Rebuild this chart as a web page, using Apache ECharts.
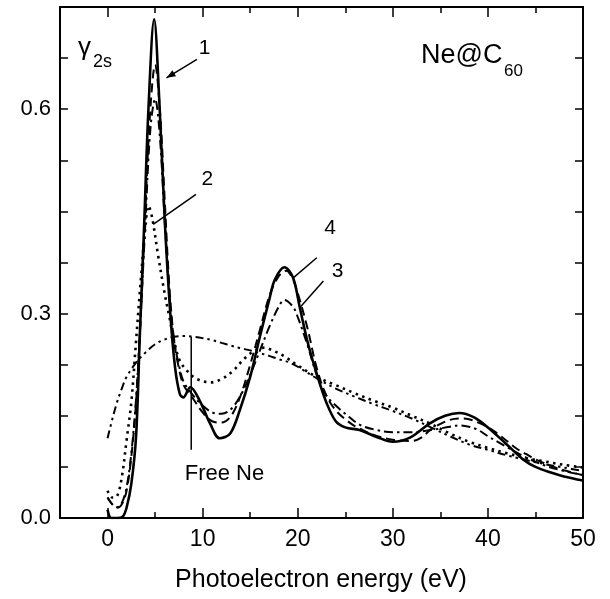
<!DOCTYPE html>
<html>
<head>
<meta charset="utf-8">
<script src="https://cdn.jsdelivr.net/npm/echarts@6/dist/echarts.min.js"></script>
<style>html,body{margin:0;padding:0;background:#fff}#c{width:610px;height:599px}</style>
</head>
<body>
<div id="c"></div>
<script>
// Curve 1: Ne@C60 (solid)
const curve1 = [[0,0.012],[0.4,0.0],[1.0,0.0],[1.6,0.002],[2.0,0.015],[2.5,0.05],[3.0,0.12],[3.4,0.27],[3.85,0.43],[4.3,0.6],[4.9,0.732],[5.45,0.61],[6.04,0.43],[6.6,0.3],[7.1,0.221],[7.6,0.182],[7.96,0.177],[8.7,0.192],[9.7,0.172],[10.8,0.138],[11.8,0.117],[12.9,0.124],[13.9,0.158],[15.0,0.207],[16.0,0.265],[17.0,0.32],[17.6,0.35],[18.6,0.368],[19.5,0.353],[20.2,0.31],[21.1,0.255],[22.1,0.207],[23.0,0.17],[24.0,0.142],[25.0,0.133],[26.5,0.129],[28.3,0.119],[30.0,0.112],[31.8,0.118],[33.9,0.139],[35.5,0.15],[37.0,0.154],[38.5,0.148],[40.0,0.133],[41.9,0.109],[43.7,0.086],[45.0,0.075],[46.8,0.066],[48.0,0.061],[50.0,0.055]];
// Curve 2 (dotted)
const curve2 = [[0,0.04],[0.5,0.03],[1.0,0.032],[1.5,0.06],[2.0,0.114],[2.5,0.17],[3.0,0.26],[3.5,0.35],[4.0,0.43],[4.3,0.458],[4.7,0.44],[5.3,0.387],[6.0,0.33],[6.5,0.295],[7.0,0.26],[7.6,0.231],[8.5,0.214],[9.4,0.204],[10.8,0.199],[12.0,0.204],[13.2,0.216],[14.4,0.234],[15.5,0.246],[16.5,0.25],[17.5,0.245],[18.5,0.238],[20.0,0.224],[22.0,0.207],[24.0,0.195],[26.0,0.183],[28.0,0.172],[30.0,0.162],[32.0,0.15],[34.0,0.138],[36.0,0.124],[38.0,0.112],[40.0,0.103],[42.0,0.095],[44.0,0.088],[46.0,0.083],[48.0,0.078],[50.0,0.074]];
// Curve 3 (dash-dot)
const curve3 = [[0,0.03],[0.5,0.02],[1.0,0.016],[1.5,0.022],[2.0,0.045],[2.5,0.095],[3.0,0.175],[3.5,0.3],[4.0,0.44],[4.5,0.57],[5.0,0.615],[5.5,0.56],[6.0,0.44],[6.5,0.33],[7.0,0.26],[7.5,0.225],[8.0,0.2],[9.0,0.18],[10.0,0.165],[11.0,0.155],[12.0,0.153],[13.0,0.16],[14.0,0.18],[15.0,0.21],[16.0,0.245],[17.0,0.28],[18.0,0.31],[18.6,0.32],[19.5,0.31],[20.0,0.295],[21.0,0.255],[22.0,0.21],[23.0,0.18],[24.0,0.165],[25.0,0.153],[26.5,0.137],[28.0,0.13],[30.0,0.126],[32.0,0.126],[34.0,0.129],[36.0,0.134],[37.0,0.136],[38.0,0.134],[39.0,0.129],[40.0,0.12],[41.0,0.112],[42.0,0.104],[44.0,0.089],[46.0,0.077],[48.0,0.069],[50.0,0.063]];
// Curve 4 (dashed)
const curve4 = [[0,0.03],[0.5,0.02],[1.0,0.015],[1.5,0.02],[2.0,0.04],[2.5,0.09],[3.0,0.17],[3.5,0.3],[4.0,0.46],[4.5,0.6],[5.0,0.665],[5.5,0.6],[6.0,0.47],[6.5,0.34],[7.0,0.26],[7.5,0.22],[8.0,0.195],[9.0,0.175],[10.0,0.155],[11.0,0.142],[12.0,0.14],[13.0,0.15],[14.0,0.18],[15.0,0.225],[16.0,0.275],[17.0,0.325],[18.0,0.355],[18.8,0.363],[19.5,0.35],[20.0,0.33],[21.0,0.28],[22.0,0.22],[23.0,0.18],[24.0,0.158],[25.0,0.145],[26.0,0.135],[28.0,0.122],[30.0,0.115],[32.0,0.113],[33.0,0.118],[34.0,0.13],[35.0,0.138],[36.0,0.144],[37.0,0.146],[38.0,0.145],[39.0,0.14],[40.0,0.133],[41.0,0.124],[42.0,0.113],[43.0,0.102],[44.0,0.094],[45.0,0.086],[46.0,0.08],[48.0,0.07],[50.0,0.063]];
// Free Ne (dash-dot-dot)
const freeNe = [[0,0.117],[0.5,0.145],[1.0,0.17],[1.5,0.19],[2.0,0.207],[3.0,0.228],[4.0,0.243],[5.0,0.255],[6.0,0.262],[7.0,0.266],[8.0,0.267],[9.0,0.266],[10.0,0.264],[11.0,0.261],[12.0,0.257],[13.0,0.253],[14.0,0.249],[15.0,0.246],[16.0,0.242],[17.0,0.238],[18.0,0.233],[19.0,0.229],[20.0,0.222],[22.0,0.205],[24.0,0.19],[26.0,0.178],[28.0,0.167],[30.0,0.157],[32.0,0.146],[34.0,0.133],[36.0,0.12],[38.0,0.108],[40.0,0.1],[42.0,0.092],[44.0,0.085],[46.0,0.079],[48.0,0.074],[50.0,0.069]];

const xMajorTicks = [0, 10, 20, 30, 40, 50];
const xMinorTicks = [5, 15, 25, 35, 45];
const yLabelTicks = [0.0, 0.3, 0.6];
const xTitle = 'Photoelectron energy (eV)';

// annotation anchors in data space
const ann = {
  l1: {text:'1', at:[10.2,0.69], from:[9.4,0.673], to:[6.2,0.646], arrow:true},
  l2: {text:'2', at:[10.5,0.497], from:[9.3,0.475], to:[4.8,0.431]},
  l4: {text:'4', at:[23.4,0.425], from:[22.0,0.382], to:[19.5,0.352]},
  l3: {text:'3', at:[24.2,0.362], from:[22.7,0.348], to:[20.3,0.31]},
  free: {text:'Free Ne', at:[12.3,0.064], from:[8.8,0.266], to:[8.8,0.1]}
};

const FONT = 'Liberation Sans, Arial, Helvetica, sans-serif';
const chart = echarts.init(document.getElementById('c'), null, {renderer:'canvas'});
const grid = {left:60, right:27, top:7, bottom:81, containLabel:false};
const axLine = {show:true, onZero:false, lineStyle:{color:'#000', width:2}};
function mkX(pos, labels, ticks, len, showLine){
  return {type:'value', position:pos, min:-5, max:50, interval:5,
    axisLine: showLine ? axLine : {show:false, onZero:false},
    axisTick:{show:true, inside:true, length:len, lineStyle:{color:'#000', width:1.5}, customValues: ticks},
    axisLabel: labels ? {show:true, color:'#000', fontSize:23, fontFamily:FONT, margin:10, customValues:xMajorTicks, formatter:v=>String(v)} : {show:false},
    splitLine:{show:false}};
}
function mkY(pos, labels){
  return {type:'value', position:pos, min:0, max:0.75, interval:0.075,
    axisLine: axLine,
    axisTick:{show:true, inside:true, length:8, lineStyle:{color:'#000', width:1.5}},
    axisLabel: labels ? {show:true, color:'#000', fontSize:22, fontFamily:FONT, margin:9, customValues:yLabelTicks, formatter:v=>v.toFixed(1)} : {show:false},
    splitLine:{show:false}};
}
const series = [
  {data:curve1, lineStyle:{type:'solid', width:2.6}},
  {data:curve2, lineStyle:{type:[2.5,4.5], width:2.6}},
  {data:curve3, lineStyle:{type:[9,4,2.5,4], width:2}},
  {data:curve4, lineStyle:{type:[9,5], width:2}},
  {data:freeNe, lineStyle:{type:[8,4,2.5,4,2.5,4], width:2}}
].map(s=>Object.assign({type:'line', smooth:0.35, symbol:'none', xAxisIndex:0, yAxisIndex:0, clip:true, color:'#000', silent:true, animation:false}, s, {lineStyle:Object.assign({color:'#000'}, s.lineStyle)}));

chart.setOption({
  animation:false,
  backgroundColor:'#fff',
  grid: grid,
  xAxis:[mkX('bottom', true, xMajorTicks, 10, true), mkX('bottom', false, xMinorTicks, 6, false),
         mkX('top', false, xMajorTicks, 10, true), mkX('top', false, xMinorTicks, 6, false)],
  yAxis:[mkY('left', true), mkY('right', false)],
  series: series
});

function P(d){ return chart.convertToPixel({xAxisIndex:0, yAxisIndex:0}, d); }
const g = [];
for (const k in ann){
  const a = ann[k];
  const f = P(a.from), t = P(a.to), p = P(a.at);
  g.push({type:'line', shape:{x1:f[0], y1:f[1], x2:t[0], y2:t[1]}, style:{stroke:'#000', lineWidth:1.5}});
  if (a.arrow){
    const ang = Math.atan2(t[1]-f[1], t[0]-f[0]);
    const L = 9, W = 3.5;
    const bx = t[0]-L*Math.cos(ang), by = t[1]-L*Math.sin(ang);
    g.push({type:'polygon', shape:{points:[[t[0],t[1]],[bx+W*Math.sin(ang), by-W*Math.cos(ang)],[bx-W*Math.sin(ang), by+W*Math.cos(ang)]]}, style:{fill:'#000'}});
  }
  g.push({type:'text', x:p[0], y:p[1], style:{text:a.text, fill:'#000', font:(k==='free'?'22px ':'21px ')+FONT, align:'center', verticalAlign:'middle'}});
}
g.push({type:'text', x:321, y:580, style:{text:xTitle, fill:'#000', font:'25px '+FONT, align:'center', verticalAlign:'middle'}});
g.push({type:'text', x:78, y:48, style:{text:'γ', fill:'#000', font:'26px '+FONT, align:'left', verticalAlign:'middle'}});
g.push({type:'text', x:93, y:62, style:{text:'2s', fill:'#000', font:'18px '+FONT, align:'left', verticalAlign:'middle'}});
g.push({type:'text', x:421, y:56, style:{text:'Ne@C', fill:'#000', font:'27px '+FONT, align:'left', verticalAlign:'middle'}});
g.push({type:'text', x:504, y:71, style:{text:'60', fill:'#000', font:'17px '+FONT, align:'left', verticalAlign:'middle'}});
chart.setOption({graphic: g});
</script>
</body>
</html>
